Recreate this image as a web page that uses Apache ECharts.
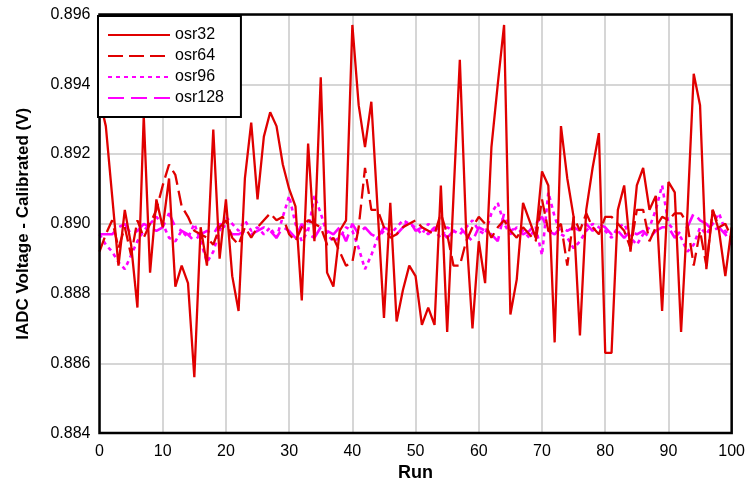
<!DOCTYPE html>
<html>
<head>
<meta charset="utf-8">
<script src="https://cdn.jsdelivr.net/npm/echarts@6/dist/echarts.min.js"></script>
<style>html,body{margin:0;padding:0;background:#fff}#c{width:748px;height:487px}</style>
</head>
<body>
<div id="c"></div>
<script>
var runs = [];
for (var i = 0; i <= 100; i++) runs.push(i);

var osr32 = [0.8936,0.8928,0.8908,0.8888,0.8904,0.8894,0.8876,0.8931,0.8886,0.8907,
0.8899,0.8913,0.8882,0.8888,0.8883,0.8856,0.8899,0.8888,0.8927,0.8890,
0.8907,0.8885,0.8875,0.8913,0.8929,0.8907,0.8925,0.8932,0.8928,0.8917,
0.8910,0.8905,0.8878,0.8923,0.8895,0.8942,0.8886,0.8882,0.8898,0.8901,
0.8957,0.8934,0.8922,0.8935,0.8904,0.8873,0.8906,0.8872,0.8881,0.8888,
0.8885,0.8871,0.8876,0.8871,0.8911,0.8869,0.8908,0.8947,0.8898,0.8870,
0.8895,0.8883,0.8922,0.8940,0.8957,0.8874,0.8884,0.8906,0.8901,0.8896,
0.8915,0.8911,0.8866,0.8928,0.8913,0.8902,0.8868,0.8904,0.8916,0.8926,
0.8863,0.8863,0.8904,0.8911,0.8892,0.8911,0.8916,0.8904,0.8908,0.8875,
0.8912,0.8909,0.8869,0.8903,0.8943,0.8934,0.8887,0.8904,0.8898,0.8885,
0.8899];

var osr64 = [0.8892,0.8897,0.8901,0.8893,0.8899,0.8891,0.8901,0.8896,0.8900,0.8904,
0.8911,0.8917,0.8914,0.8905,0.8902,0.8898,0.8897,0.8896,0.8894,0.8899,
0.8901,0.8896,0.8894,0.8899,0.8896,0.8899,0.8901,0.8903,0.8901,0.8902,
0.8897,0.8895,0.8899,0.8901,0.8900,0.8899,0.8894,0.8896,0.8892,0.8888,
0.8889,0.8899,0.8916,0.8904,0.8904,0.8899,0.8896,0.8897,0.8899,0.8900,
0.8901,0.8899,0.8898,0.8897,0.8903,0.8897,0.8888,0.8888,0.8895,0.8899,
0.8902,0.8900,0.8896,0.8899,0.8901,0.8898,0.8896,0.8899,0.8897,0.8895,
0.8907,0.8898,0.8898,0.8900,0.8888,0.8902,0.8898,0.8903,0.8899,0.8897,
0.8902,0.8902,0.8900,0.8898,0.8893,0.8904,0.8904,0.8895,0.8899,0.8902,
0.8901,0.8903,0.8903,0.8900,0.8888,0.8898,0.8888,0.8904,0.8899,0.8900,
0.8896];

var osr96 = [0.8897,0.8894,0.8892,0.8889,0.8887,0.8891,0.8895,0.8898,0.8900,0.8902,
0.8900,0.8896,0.8895,0.8898,0.8896,0.8900,0.8895,0.8889,0.8892,0.8898,
0.8902,0.8900,0.8898,0.8901,0.8898,0.8899,0.8897,0.8899,0.8896,0.8902,
0.8908,0.8900,0.8895,0.8898,0.8908,0.8903,0.8897,0.8895,0.8896,0.8899,
0.8898,0.8893,0.8887,0.8891,0.8896,0.8898,0.8897,0.8899,0.8901,0.8900,
0.8899,0.8897,0.8900,0.8898,0.8896,0.8899,0.8898,0.8897,0.8899,0.8901,
0.8898,0.8897,0.8903,0.8906,0.8900,0.8897,0.8899,0.8898,0.8896,0.8899,
0.8891,0.8909,0.8902,0.8897,0.8896,0.8893,0.8895,0.8898,0.8900,0.8899,
0.8898,0.8896,0.8899,0.8900,0.8896,0.8894,0.8897,0.8899,0.8904,0.8911,
0.8900,0.8898,0.8896,0.8892,0.8894,0.8899,0.8897,0.8900,0.8903,0.8898,
0.8896];

var osr128 = [0.8897,0.8897,0.8897,0.8899,0.8900,0.8897,0.8898,0.8900,0.8899,0.8898,
0.8899,0.8903,0.8899,0.8898,0.8897,0.8895,0.8897,0.8898,0.8897,0.8900,
0.8899,0.8897,0.8897,0.8898,0.8897,0.8898,0.8899,0.8898,0.8896,0.8899,
0.8898,0.8896,0.8900,0.8897,0.8896,0.8899,0.8898,0.8897,0.8899,0.8895,
0.8900,0.8897,0.8899,0.8897,0.8896,0.8899,0.8898,0.8897,0.8899,0.8901,
0.8898,0.8899,0.8897,0.8899,0.8898,0.8896,0.8898,0.8899,0.8897,0.8895,
0.8899,0.8898,0.8897,0.8895,0.8903,0.8898,0.8899,0.8897,0.8898,0.8900,
0.8902,0.8898,0.8897,0.8899,0.8898,0.8899,0.8898,0.8900,0.8898,0.8900,
0.8899,0.8897,0.8898,0.8896,0.8898,0.8897,0.8898,0.8896,0.8898,0.8899,
0.8899,0.8896,0.8898,0.8899,0.8903,0.8901,0.8900,0.8898,0.8899,0.8897,
0.8894];

var seriesNames = ['osr32', 'osr64', 'osr96', 'osr128'];
var xTicks = {min: 0, max: 100, interval: 10};
var yTicks = {min: 0.884, max: 0.896, interval: 0.002};

function pairs(arr) { return arr.map(function (v, i) { return [runs[i], v]; }); }

var FONT = 'Liberation Sans, Arial, sans-serif';
var chart = echarts.init(document.getElementById('c'), null, {renderer: 'canvas'});
chart.setOption({
  animation: false,
  backgroundColor: '#ffffff',
  grid: {left: 99.5, right: 13, top: 14.5, bottom: 52.5, show: true, borderColor: '#000', borderWidth: 2.5, backgroundColor: 'transparent', z: 5},
  legend: {
    orient: 'vertical', left: 98, top: 16,
    backgroundColor: '#fff', borderColor: '#000', borderWidth: 2,
    padding: [11, 17, 11, 9], itemGap: 5, itemWidth: 62, itemHeight: 14,
    itemStyle: {opacity: 0},
    textStyle: {fontFamily: FONT, fontSize: 16, color: '#000'},
    data: seriesNames, z: 10
  },
  xAxis: {
    type: 'value', min: xTicks.min, max: xTicks.max, interval: xTicks.interval,
    name: 'Run', nameLocation: 'middle', nameGap: 30,
    nameTextStyle: {fontFamily: FONT, fontSize: 18, fontWeight: 'bold', color: '#000'},
    axisLine: {show: false}, axisTick: {show: false},
    axisLabel: {fontFamily: FONT, fontSize: 16, color: '#000', margin: 10},
    splitLine: {show: true, lineStyle: {color: '#c8c8c8', width: 1.5}}
  },
  yAxis: {
    type: 'value', min: yTicks.min, max: yTicks.max, interval: yTicks.interval,
    name: 'IADC Voltage - Calibrated (V)', nameLocation: 'middle', nameGap: 68,
    nameTextStyle: {fontFamily: FONT, fontSize: 17, fontWeight: 'bold', color: '#000'},
    axisLine: {show: false}, axisTick: {show: false},
    axisLabel: {fontFamily: FONT, fontSize: 16, color: '#000', margin: 9,
      formatter: function (v) { return v.toFixed(3); }},
    splitLine: {show: true, lineStyle: {color: '#c8c8c8', width: 1.5}}
  },
  series: [
    {name: 'osr32', type: 'line', data: pairs(osr32), showSymbol: false, symbol: 'none',
      lineStyle: {color: '#e00000', width: 2.3, type: 'solid'}, itemStyle: {color: '#e00000'}, z: 4},
    {name: 'osr64', type: 'line', data: pairs(osr64), showSymbol: false, symbol: 'none',
      lineStyle: {color: '#e00000', width: 2.3, type: [15, 6]}, itemStyle: {color: '#e00000'}, z: 3},
    {name: 'osr96', type: 'line', data: pairs(osr96), showSymbol: false, symbol: 'none',
      lineStyle: {color: '#ff00ff', width: 2.6, type: [4, 4]}, itemStyle: {color: '#ff00ff'}, z: 2},
    {name: 'osr128', type: 'line', data: pairs(osr128), showSymbol: false, symbol: 'none',
      lineStyle: {color: '#ff00ff', width: 2.6, type: [16, 7]}, itemStyle: {color: '#ff00ff'}, z: 2}
  ]
});
</script>
</body>
</html>
